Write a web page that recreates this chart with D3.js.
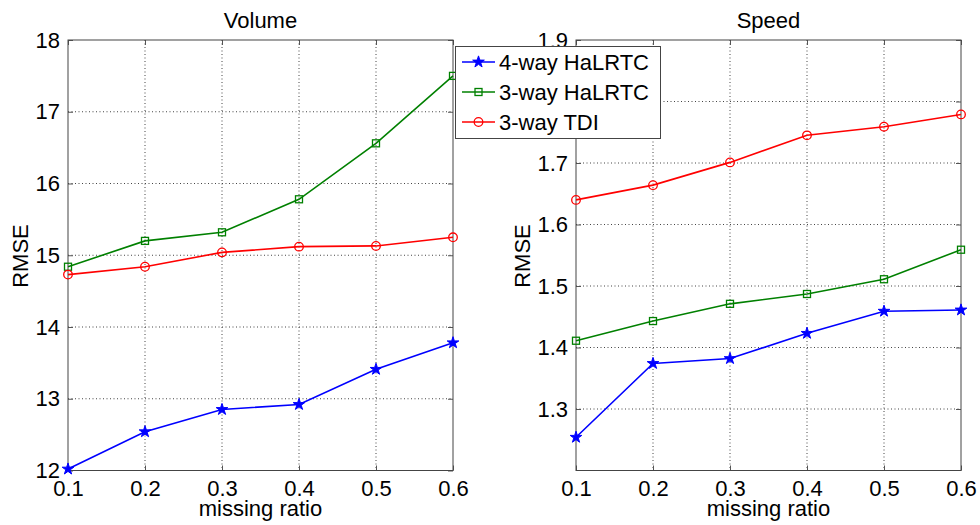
<!DOCTYPE html>
<html>
<head>
<meta charset="utf-8">
<script src="https://cdn.jsdelivr.net/npm/d3@7"></script>
<style>
  body { margin: 0; background: #fff; }
  svg text { font-family: "Liberation Sans", Arial, sans-serif; fill: #000; }
</style>
</head>
<body>
<div class="chart"></div>
<script>
// missing ratios (x axis)
var ratios = [0.1, 0.2, 0.3, 0.4, 0.5, 0.6];
var seriesNames = ["4-way HaLRTC", "3-way HaLRTC", "3-way TDI"];

// Volume panel RMSE
var volume4way = [12.02, 12.54, 12.85, 12.92, 13.41, 13.78];
var volume3way = [14.84, 15.20, 15.32, 15.78, 16.56, 17.50];
var volumeTDI = [14.73, 14.84, 15.04, 15.12, 15.13, 15.25];

// Speed panel RMSE
var speed4way = [1.254, 1.374, 1.382, 1.423, 1.459, 1.461];
var speed3way = [1.411, 1.443, 1.471, 1.487, 1.511, 1.559];
var speedTDI = [1.640, 1.664, 1.701, 1.745, 1.759, 1.779];

// tick labels
var xTicks = [0.1, 0.2, 0.3, 0.4, 0.5, 0.6];
var volumeTicks = [12, 13, 14, 15, 16, 17, 18];
var speedTicks = [1.3, 1.4, 1.5, 1.6, 1.7, 1.8, 1.9];

var colors = ["#0000ff", "#008000", "#ff0000"];
var markers = ["star", "square", "circle"];

var svgWidth = 980, svgHeight = 525;
var svg = d3.select(".chart").append("svg")
    .attr("width", svgWidth)
    .attr("height", svgHeight);

var fontSize = 22;

function drawMarker(g, type, color, x, y) {
    if (type == "star") {
        g.append("path")
            .attr("d", d3.symbol().type(d3.symbolStar).size(42)())
            .attr("transform", `translate(${x},${y})`)
            .attr("fill", color)
            .attr("stroke", color)
            .attr("stroke-width", 1);
    } else if (type == "square") {
        g.append("rect")
            .attr("x", x - 3.5).attr("y", y - 3.5)
            .attr("width", 7).attr("height", 7)
            .attr("fill", "none")
            .attr("stroke", color)
            .attr("stroke-width", 1.3);
    } else {
        g.append("circle")
            .attr("cx", x).attr("cy", y).attr("r", 4.3)
            .attr("fill", "none")
            .attr("stroke", color)
            .attr("stroke-width", 1.3);
    }
}

function drawPanel(opts) {
    var left = opts.left, right = opts.right, top = 40, bottom = 470.5;

    var x = d3.scaleLinear().domain([0.1, 0.6]).range([left, right]);
    var y = d3.scaleLinear().domain(opts.yDomain).range([bottom, top]);

    var g = svg.append("g");

    // dotted grid
    g.selectAll(".vgrid")
        .data(xTicks.slice(1, -1))
        .enter().append("line")
        .attr("x1", d => x(d)).attr("x2", d => x(d))
        .attr("y1", top).attr("y2", bottom)
        .attr("stroke", "#444")
        .attr("stroke-dasharray", "1,2.5");
    g.selectAll(".hgrid")
        .data(opts.ticks.filter(d => y(d) > top + 1 && y(d) < bottom - 1))
        .enter().append("line")
        .attr("x1", left).attr("x2", right)
        .attr("y1", d => y(d)).attr("y2", d => y(d))
        .attr("stroke", "#444")
        .attr("stroke-dasharray", "1,2.5");

    // axes with inward ticks
    var xAxis = d3.axisBottom(x).tickValues(xTicks).tickSize(-5).tickPadding(10).tickFormat(d3.format(".1f"));
    var xTop = d3.axisTop(x).tickValues(xTicks).tickSize(-5).tickFormat("");
    var yAxis = d3.axisLeft(y).tickValues(opts.ticks).tickSize(-5).tickPadding(8).tickFormat(d3.format(opts.fmt));
    var yRight = d3.axisRight(y).tickValues(opts.ticks).tickSize(-5).tickFormat("");

    [g.append("g").attr("transform", `translate(0,${bottom})`).call(xAxis),
     g.append("g").attr("transform", `translate(0,${top})`).call(xTop),
     g.append("g").attr("transform", `translate(${left},0)`).call(yAxis),
     g.append("g").attr("transform", `translate(${right},0)`).call(yRight)]
        .forEach(function (a) {
            a.select(".domain").remove();
            a.selectAll(".tick line").attr("stroke", "#555");
            a.selectAll("text").attr("font-size", fontSize).attr("fill", "#000")
                .attr("font-family", "Liberation Sans, Arial, sans-serif");
        });

    // box
    g.append("rect")
        .attr("x", left).attr("y", top)
        .attr("width", right - left).attr("height", bottom - top)
        .attr("fill", "none")
        .attr("stroke", "#444")
        .attr("stroke-width", 1);

    // lines + markers
    var line = d3.line().x((d, i) => x(ratios[i])).y(d => y(d));
    opts.series.forEach(function (vals, s) {
        g.append("path")
            .datum(vals)
            .attr("d", line)
            .attr("fill", "none")
            .attr("stroke", colors[s])
            .attr("stroke-width", 1.6);
        vals.forEach(function (v, i) {
            drawMarker(g, markers[s], colors[s], x(ratios[i]), y(v));
        });
    });

    // title
    g.append("text")
        .attr("x", (left + right) / 2)
        .attr("y", 28)
        .attr("text-anchor", "middle")
        .attr("font-size", fontSize)
        .text(opts.title);

    // x label
    g.append("text")
        .attr("x", (left + right) / 2)
        .attr("y", 516)
        .attr("text-anchor", "middle")
        .attr("font-size", fontSize)
        .text("missing ratio");

    // y label
    g.append("text")
        .attr("transform", `translate(${opts.ylabelX},256) rotate(-90)`)
        .attr("text-anchor", "middle")
        .attr("font-size", fontSize)
        .text("RMSE");
}

drawPanel({
    left: 68, right: 453,
    yDomain: [12, 18], ticks: volumeTicks, fmt: "d",
    series: [volume4way, volume3way, volumeTDI],
    title: "Volume", ylabelX: 28
});

drawPanel({
    left: 576, right: 961,
    yDomain: [1.2, 1.9], ticks: speedTicks, fmt: ".1f",
    series: [speed4way, speed3way, speedTDI],
    title: "Speed", ylabelX: 530
});

// legend on top of the right panel
var legend = svg.append("g");
legend.append("rect")
    .attr("x", 455.5).attr("y", 46.5)
    .attr("width", 205).attr("height", 92)
    .attr("fill", "#fff")
    .attr("stroke", "#444");

seriesNames.forEach(function (name, i) {
    var ly = 62 + i * 30;
    legend.append("line")
        .attr("x1", 462).attr("x2", 495)
        .attr("y1", ly).attr("y2", ly)
        .attr("stroke", colors[i])
        .attr("stroke-width", 1.6);
    drawMarker(legend, markers[i], colors[i], 478.5, ly);
    legend.append("text")
        .attr("x", 499)
        .attr("y", ly)
        .attr("dy", "0.36em")
        .attr("font-size", fontSize)
        .text(name);
});
</script>
</body>
</html>
